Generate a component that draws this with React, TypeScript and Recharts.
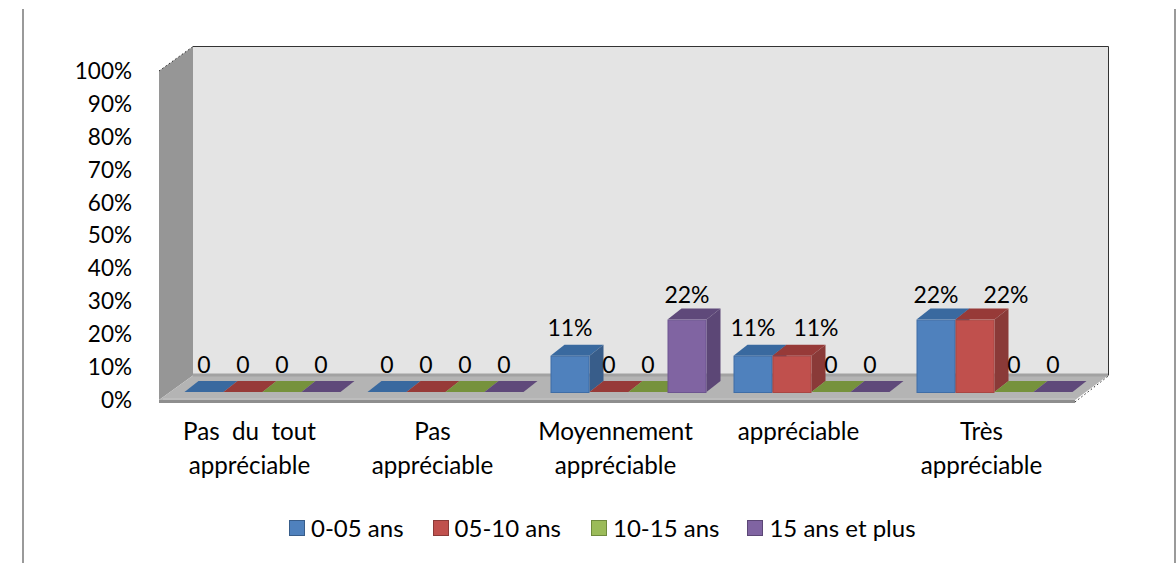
import React from "react";
import { BarChart, Bar, XAxis, YAxis, Legend, LabelList, Customized, usePlotArea } from "recharts";

const categories = ["Pas du tout appréciable", "Pas appréciable", "Moyennement appréciable", "appréciable", "Très appréciable"];
const categoryLines: string[][] = [
  ["Pas  du  tout", "appréciable"],
  ["Pas", "appréciable"],
  ["Moyennement", "appréciable"],
  ["appréciable"],
  ["Très", "appréciable"],
];
const seriesA = [0, 0, 11, 11, 22];
const seriesB = [0, 0, 0, 11, 22];
const seriesC = [0, 0, 0, 0, 0];
const seriesD = [0, 0, 22, 0, 0];
const seriesNames = ["0-05 ans", "05-10 ans", "10-15 ans", "15 ans et plus"];
const yTicks = [0, 10, 20, 30, 40, 50, 60, 70, 80, 90, 100];

const rows = categories.map((name, i) => ({
  name,
  a: seriesA[i],
  b: seriesB[i],
  c: seriesC[i],
  d: seriesD[i],
}));

const FONT = "Lato, Carlito, sans-serif";
const VALUE_FONT_SIZE = 23;
const AXIS_FONT_SIZE = 22.5;
const CATEGORY_FONT_SIZE = 24.2;
const LEGEND_FONT_SIZE = 24;

// Offsets of the pseudo-3D projection
const WALL_DX = 33;
const WALL_DY = -24.5;
const BAR_SHIFT_X = 10.5;
const BAR_SHIFT_Y = -8;
const BAR_DX = 14;
const BAR_DY = -11;

// Neighbouring percentage labels are pushed apart so they stay readable
const labelNudge: Record<string, Record<number, number>> = {
  b: { 3: 24, 4: 31 },
};

const palettes = [
  { front: "#4f81bd", side: "#385d8a", top: "#39699f", edge: "#3f6da6" },
  { front: "#c0504d", side: "#8a3a38", top: "#973a38", edge: "#a94643" },
  { front: "#9bbb59", side: "#6f8a3d", top: "#76923c", edge: "#85a14a" },
  { front: "#8064a2", side: "#5c4776", top: "#5f497a", edge: "#6d5590" },
];

function Backdrop() {
  const plot = usePlotArea();
  if (!plot) return null;
  const l = plot.x;
  const r = plot.x + plot.width;
  const t = plot.y;
  const b = plot.y + plot.height;
  const backL = l + WALL_DX;
  const backR = r + WALL_DX;
  const backT = t + WALL_DY;
  const backB = b + WALL_DY;
  return (
    <g>
      <rect x={backL} y={backT} width={backR - backL} height={backB - backT} fill="#e4e4e4" />
      <path d={`M${backL} ${backT}H${backR + 0.5}V${backB}`} fill="none" stroke="#333" strokeWidth={1} />
      <polygon points={`${l - 1},${t} ${backL},${backT} ${backL},${backB} ${l - 1},${b}`} fill="#969696" />
      <line x1={l - 1} y1={t} x2={backL} y2={backT} stroke="#2a2a2a" strokeWidth={1} strokeDasharray="1.5 2.5" />
      <polygon points={`${l - 1},${b} ${backL},${backB} ${backR},${backB} ${r},${b}`} fill="#b4b4b4" />
      <rect x={backL} y={backB - 2} width={backR - backL} height={3} fill="#a2a2a2" />
      <polygon points={`${l - 1},${b} ${r},${b} ${r},${b + 3} ${l - 1},${b + 3}`} fill="#8e8e8e" />
      <rect x={l + 3} y={b - 2} width={r - l - 3} height={2} fill="#bdbdbd" />
      <line x1={r} y1={b + 2} x2={backR + 1} y2={backB} stroke="#2a2a2a" strokeWidth={1} strokeDasharray="1.5 2.5" />
    </g>
  );
}

// Extruded column: the front face sits slightly inside the floor depth
function Column3D(props: any) {
  const { x, y, width, height, colorIndex } = props;
  const c = palettes[colorIndex];
  const fx = x + BAR_SHIFT_X;
  const fy = y + BAR_SHIFT_Y;
  const fb = fy + height;
  const fr = fx + width;
  return (
    <g>
      <polygon points={`${fx},${fy} ${fx + BAR_DX},${fy + BAR_DY} ${fr + BAR_DX},${fy + BAR_DY} ${fr},${fy}`} fill={c.top} />
      {height > 0 && (
        <>
          <polygon points={`${fr},${fy} ${fr + BAR_DX},${fy + BAR_DY} ${fr + BAR_DX},${fb + BAR_DY} ${fr},${fb}`} fill={c.side} />
          <rect x={fx + 0.5} y={fy + 0.5} width={width - 1} height={height} fill={c.front} stroke={c.edge} strokeWidth={1} />
        </>
      )}
    </g>
  );
}

function ValueLabel(props: any) {
  const { x, y, width, value, index, seriesKey } = props;
  const text = value === 0 ? "0" : `${value}%`;
  const nudge = labelNudge[seriesKey]?.[index] ?? 0;
  return (
    <text
      x={x + width / 2 + BAR_SHIFT_X + nudge}
      y={y + BAR_SHIFT_Y - (value > 20 ? 17 : 19.5)}
      textAnchor="middle"
      fontFamily={FONT}
      fontSize={VALUE_FONT_SIZE}
      fill="#000"
    >
      {text}
    </text>
  );
}

function CategoryTick(props: any) {
  const { x, y, index } = props;
  const lines = categoryLines[index] ?? [];
  return (
    <g>
      {lines.map((line, i) => (
        <text
          key={line}
          x={x - 2}
          y={y + 32 + i * 34}
          textAnchor="middle"
          fontFamily={FONT}
          fontSize={CATEGORY_FONT_SIZE}
          fill="#000"
          style={{ whiteSpace: "pre" }}
        >
          {line}
        </text>
      ))}
    </g>
  );
}

const legendGaps = [289, 29, 30, 28];

function LegendRow() {
  return (
    <div
      style={{
        display: "flex",
        justifyContent: "flex-start",
        alignItems: "center",
        fontFamily: FONT,
        fontSize: LEGEND_FONT_SIZE,
        color: "#000",
        lineHeight: "24px",
      }}
    >
      {seriesNames.map((name, i) => (
        <span key={name} style={{ display: "inline-flex", alignItems: "center", marginLeft: legendGaps[i] }}>
          <span
            style={{
              width: 14,
              height: 14,
              background: palettes[i].front,
              border: `1px solid ${palettes[i].side}`,
              marginRight: 6,
              display: "inline-block",
            }}
          />
          {name}
        </span>
      ))}
    </div>
  );
}

const seriesKeys = ["a", "b", "c", "d"];

export default function App() {
  return (
    <div style={{ position: "absolute", left: 0, top: 0, width: 1176, height: 563, background: "#fff" }}>
      <div style={{ position: "absolute", left: 22, top: 9, bottom: 0, width: 2, background: "#9a9a9a" }} />
      <div style={{ position: "absolute", left: 1174, top: 9, bottom: 0, width: 2, background: "#9a9a9a" }} />
      <BarChart
        width={1176}
        height={563}
        data={rows}
        barSize={39}
        barGap={0}
        margin={{ top: 71, right: 101, bottom: 109, left: 100 }}
        style={{ position: "absolute", left: 0, top: 0 }}
      >
        <Customized component={Backdrop} />
        <XAxis dataKey="name" axisLine={false} tickLine={false} interval={0} tick={<CategoryTick />} height={30} />
        <YAxis
          domain={[0, 100]}
          ticks={yTicks}
          interval={0}
          width={60}
          axisLine={false}
          tickLine={false}
          tickMargin={22}
          tickFormatter={(v: number) => `${v}%`}
          tick={{ fontFamily: FONT, fontSize: AXIS_FONT_SIZE, fill: "#000" }}
        />
        {seriesKeys.map((key, i) => (
          <Bar
            key={key}
            dataKey={key}
            name={seriesNames[i]}
            fill={palettes[i].front}
            isAnimationActive={false}
            shape={(p: any) => <Column3D {...p} colorIndex={i} />}
          >
            <LabelList dataKey={key} content={<ValueLabel seriesKey={key} />} />
          </Bar>
        ))}
        <Legend
          verticalAlign="bottom"
          content={<LegendRow />}
          wrapperStyle={{ left: 0, width: 1176, top: 516, bottom: "auto" }}
        />
      </BarChart>
    </div>
  );
}
